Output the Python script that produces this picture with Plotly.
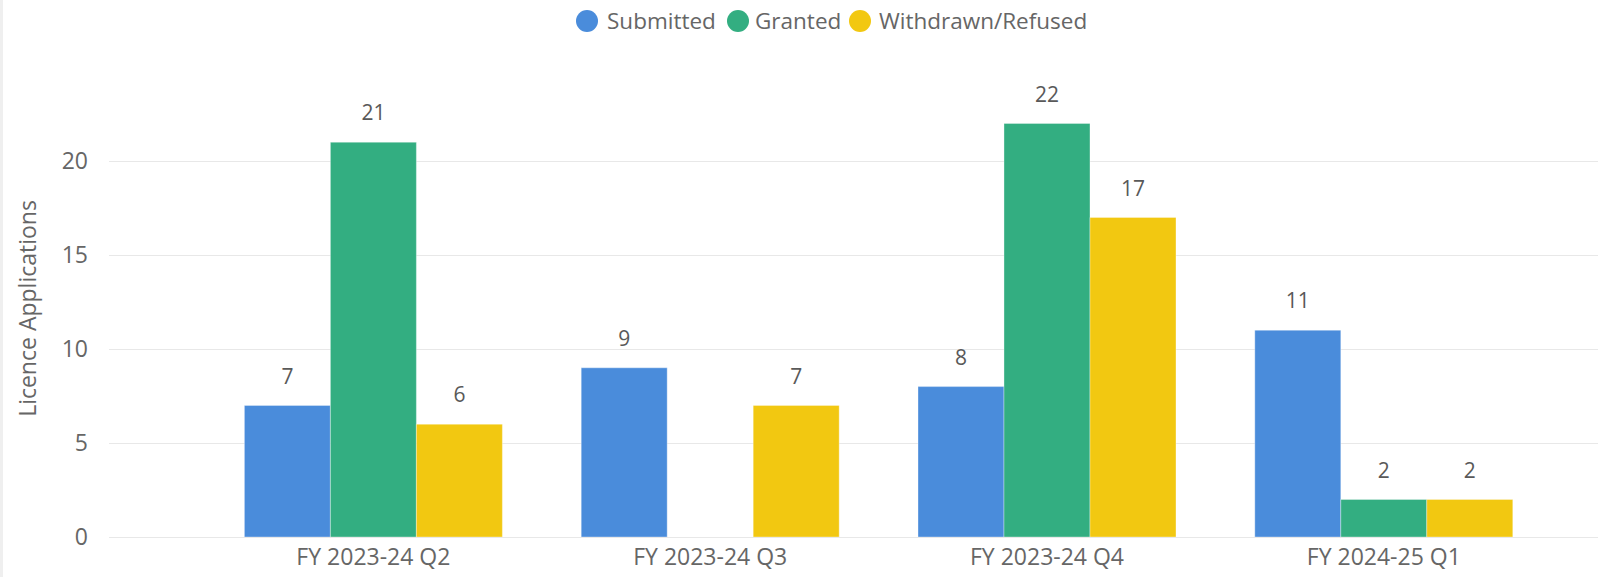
import plotly.graph_objects as go

categories = ["FY 2023-24 Q2", "FY 2023-24 Q3", "FY 2023-24 Q4", "FY 2024-25 Q1"]
series_names = ["Submitted", "Granted", "Withdrawn/Refused"]
submitted = [7, 9, 8, 11]
granted = [21, None, 22, 2]
withdrawn = [6, 7, 17, 2]
y_ticks = [0, 5, 10, 15, 20]

colors = ["#4A8CDB", "#33AE81", "#F2C811"]
series_values = [submitted, granted, withdrawn]

W, H = 1598, 577
ML, MR, MT, MB = 109, 0, 80, 40
PW = W - ML - MR
PH = H - MT - MB
FONT = "Open Sans"
GRAY = "#666666"

fig = go.Figure()
for name, vals, col in zip(series_names, series_values, colors):
    fig.add_trace(go.Bar(
        x=categories, y=vals, name=name, offsetgroup=name,
        marker=dict(color=col, line=dict(color="rgba(255,255,255,0.35)", width=1)),
        showlegend=False, hoverinfo="x+y+name",
    ))
for name, vals in zip(series_names, series_values):
    fig.add_trace(go.Scatter(
        x=categories, y=vals, mode="text+markers", offsetgroup=name,
        text=[("" if v is None else str(v)) for v in vals],
        textposition="top center",
        textfont=dict(family=FONT, size=21, color="#595959"),
        marker=dict(size=25, opacity=0),
        showlegend=False, hoverinfo="skip", cliponaxis=False,
    ))

# legend (drawn as circles + text)
legend_items = [(587, 605), (738, 753), (860, 877)]
for (cx, tx), name, col in zip(legend_items, series_names, colors):
    fig.add_shape(type="circle", xref="paper", yref="paper",
                  xsizemode="pixel", ysizemode="pixel",
                  xanchor=(cx - ML) / PW, yanchor=(H - MB - 21) / PH,
                  x0=-11, x1=11, y0=-11, y1=11,
                  fillcolor=col, line=dict(width=0))
    fig.add_annotation(text=name, xref="paper", yref="paper",
                       x=(tx - ML) / PW, y=(H - MB - 21) / PH,
                       xanchor="left", yanchor="middle", showarrow=False,
                       font=dict(family=FONT, size=22.5, color=GRAY))

# faint left border shadow
fig.add_shape(type="rect", xref="paper", yref="paper",
              x0=(0 - ML) / PW, x1=(3 - ML) / PW, y0=-MB / PH, y1=(H - MB) / PH,
              fillcolor="#EFEFEF", line=dict(width=0), layer="below")

fig.update_layout(
    width=W, height=H,
    margin=dict(l=ML, r=MR, t=MT, b=MB),
    paper_bgcolor="white", plot_bgcolor="white",
    barmode="group", bargap=0.234, bargroupgap=0,
    scattermode="group", scattergap=0.234,
    font=dict(family=FONT, color=GRAY),
    showlegend=False,
    xaxis=dict(
        type="category", range=[-0.785, 3.636],
        tickfont=dict(family=FONT, size=23, color=GRAY),
        showgrid=False, showline=False, zeroline=False, ticks="",
        ticklabelstandoff=4,
    ),
    yaxis=dict(
        range=[0, PH / 18.8], tickvals=y_ticks,
        tickfont=dict(family=FONT, size=23, color=GRAY),
        gridcolor="#E8E8E8", gridwidth=1, zeroline=True,
        zerolinecolor="#E8E8E8", zerolinewidth=1,
        showline=False, ticks="", ticklabelstandoff=20,
        title=dict(text="Licence Applications", standoff=18,
                   font=dict(family=FONT, size=23, color=GRAY)),
    ),
)

fig.write_html("out.html", config={"displayModeBar": False},
               post_script="document.body.style.margin='0';document.body.style.padding='0';")
